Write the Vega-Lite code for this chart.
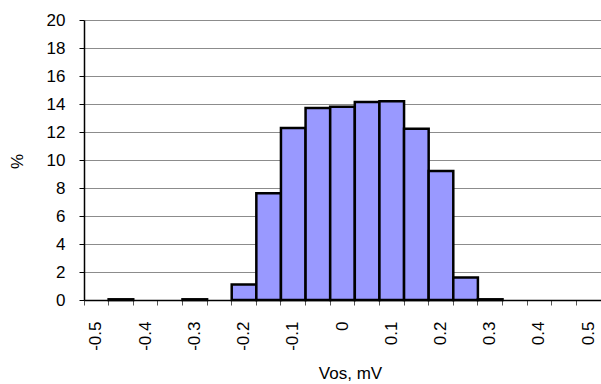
{
  "$schema": "https://vega.github.io/schema/vega-lite/v6.json",
  "autosize": "none",
  "padding": {"left": 84, "top": 20, "right": 0, "bottom": 84},
  "width": 517,
  "height": 280,
  "background": "white",
  "config": {"view": {"stroke": null}, "font": "Liberation Sans"},
  "data": {
    "values": [
      {"vos": -0.45, "pct": 0.05},
      {"vos": -0.3, "pct": 0.05},
      {"vos": -0.2, "pct": 1.11},
      {"vos": -0.15, "pct": 7.62},
      {"vos": -0.1, "pct": 12.29},
      {"vos": -0.05, "pct": 13.71},
      {"vos": 0, "pct": 13.81},
      {"vos": 0.05, "pct": 14.14},
      {"vos": 0.1, "pct": 14.19},
      {"vos": 0.15, "pct": 12.24},
      {"vos": 0.2, "pct": 9.21},
      {"vos": 0.25, "pct": 1.6},
      {"vos": 0.3, "pct": 0.05}
    ]
  },
  "mark": {"type": "bar", "fill": "#9999FF", "stroke": "black", "strokeWidth": 2.5, "strokeJoin": "miter"},
  "encoding": {
    "x": {
      "field": "vos",
      "type": "ordinal",
      "sort": null,
      "scale": {
        "domain": [-0.5, -0.45, -0.4, -0.35, -0.3, -0.25, -0.2, -0.15, -0.1, -0.05, 0, 0.05, 0.1, 0.15, 0.2, 0.25, 0.3, 0.35, 0.4, 0.45, 0.5],
        "paddingInner": 0,
        "paddingOuter": 0
      },
      "axis": {
        "title": "Vos, mV",
        "titleFont": "Liberation Sans",
        "titleFontSize": 17,
        "titleFontWeight": "normal",
        "titleColor": "black",
        "titleX": 266,
        "titleY": 73,
        "titleAlign": "center",
        "titleBaseline": "middle",
        "bandPosition": 0,
        "labelAngle": -90,
        "labelAlign": "right",
        "labelBaseline": "middle",
        "labelPadding": 16,
        "labelFont": "Liberation Sans",
        "labelFontSize": 17,
        "labelColor": "black",
        "labelExpr": "round(datum.value * 20) % 2 == 0 ? datum.label : ''",
        "labelOverlap": false,
        "tickSize": 5,
        "tickColor": "#555555",
        "domainColor": "black",
        "domainWidth": 1.5,
        "grid": false
      }
    },
    "y": {
      "field": "pct",
      "type": "quantitative",
      "scale": {"domain": [0, 20], "nice": false},
      "axis": {
        "title": "%",
        "titleFont": "Liberation Sans",
        "titleFontSize": 17,
        "titleFontWeight": "normal",
        "titleColor": "black",
        "titleX": -67,
        "titleY": 141,
        "titleAlign": "center",
        "titleBaseline": "middle",
        "titleAngle": -90,
        "values": [0, 2, 4, 6, 8, 10, 12, 14, 16, 18, 20],
        "labelFont": "Liberation Sans",
        "labelFontSize": 17,
        "labelColor": "black",
        "labelPadding": 14,
        "tickSize": 5,
        "tickColor": "black",
        "domainColor": "black",
        "domainWidth": 1.5,
        "grid": true,
        "gridColor": "#8c8c8c",
        "gridWidth": 1
      }
    }
  }
}
